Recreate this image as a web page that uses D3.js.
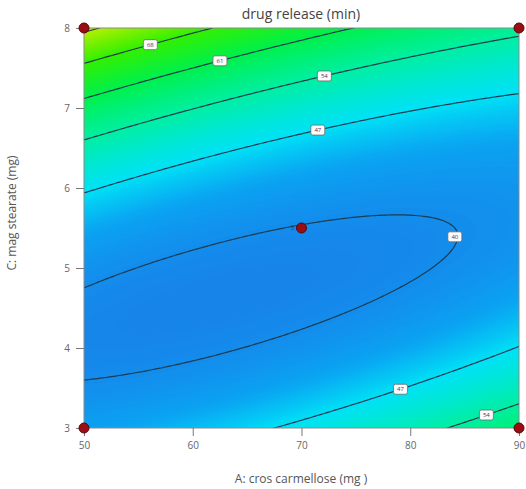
<!DOCTYPE html>
<html>
<head>
<meta charset="utf-8">
<script src="https://cdn.jsdelivr.net/npm/d3@7"></script>
<style>
  body { margin: 0; background: #fff; }
  text { font-family: "Open Sans", "DejaVu Sans", sans-serif; }
</style>
</head>
<body>
<div id="vis"></div>
<script>

// fitted model, coded units a = (A-70)/20, c = (C-5.5)/2.5
// terms: const, A, C, AC, A^2, C^2
var coefNames = ['Intercept', 'A', 'C', 'AC', 'A2', 'C2'];
var coef = [39.87, -1.43, 7.72, -8.98, 2.29, 15.75];

var xDomain = [50, 90];
var yDomain = [3, 8];
var xTicks = [50, 60, 70, 80, 90];
var yTicks = [3, 4, 5, 6, 7, 8];

var levels = [40, 47, 54, 61, 68, 75];

// contour labels: level, A position, which branch of the curve
var labelLevels = [68, 61, 54, 47, 40, 47, 54];
var labelA = [56.1, 62.5, 72.1, 71.5, 84.1, 79.1, 87.0];
var labelBranch = ['up', 'up', 'up', 'up', 'tip', 'down', 'down'];

// design points
var designA = [50, 90, 50, 90, 70];
var designC = [8, 8, 3, 3, 5.5];
var designN = ['', '', '', '', '3'];

var width = 526, height = 489;
var margin = {left: 84, right: 7, top: 28, bottom: 61};

function model(A, C) {
	var a = (A - 70) / 20, c = (C - 5.5) / 2.5;
	return coef[0] + coef[1]*a + coef[2]*c + coef[3]*a*c + coef[4]*a*a + coef[5]*c*c;
}

// solve the model for C at a given A and level
function solveC(A, L, branch) {
	var a = (A - 70) / 20;
	var qa = coef[5], qb = coef[2] + coef[3]*a, qc = coef[0] + coef[1]*a + coef[4]*a*a - L;
	var disc = qb*qb - 4*qa*qc;
	var c;
	if (branch === 'tip' || disc < 0) c = -qb / (2*qa);
	else if (branch === 'up') c = (-qb + Math.sqrt(disc)) / (2*qa);
	else c = (-qb - Math.sqrt(disc)) / (2*qa);
	return 5.5 + c * 2.5;
}

var x = d3.scaleLinear().domain(xDomain).range([margin.left, width - margin.right]);
var y = d3.scaleLinear().domain(yDomain).range([height - margin.bottom, margin.top]);

var svg = d3.select('#vis').append('svg')
	.attr('width', width)
	.attr('height', height);

// grid of model values
var nx = 161, ny = 161;
var values = new Array(nx * ny);
for (var j = 0; j < ny; j++) {
	for (var i = 0; i < nx; i++) {
		var A = xDomain[0] + (xDomain[1] - xDomain[0]) * i / (nx - 1);
		var C = yDomain[1] - (yDomain[1] - yDomain[0]) * j / (ny - 1);
		values[j * nx + i] = model(A, C);
	}
}

var gx = d3.scaleLinear().domain([0.5, nx - 0.5]).range(x.range());
var gy = d3.scaleLinear().domain([0.5, ny - 0.5]).range([y(yDomain[1]), y(yDomain[0])]);
var path = d3.geoPath(d3.geoTransform({
	point: function(px, py) { this.stream.point(gx(px), gy(py)); }
}));

var color = d3.scaleLinear()
	.domain([38.8, 43, 47, 54, 61, 68, 76])
	.range(['#1784ea', '#0aa4f2', '#00e2f6', '#00efa0', '#00f04c', '#34f000', '#c4f000'])
	.clamp(true);

svg.append('clipPath').attr('id', 'plotClip')
	.append('rect')
	.attr('x', x(xDomain[0])).attr('y', y(yDomain[1]))
	.attr('width', x(xDomain[1]) - x(xDomain[0]))
	.attr('height', y(yDomain[0]) - y(yDomain[1]));

var plot = svg.append('g').attr('clip-path', 'url(#plotClip)');

plot.append('rect')
	.attr('x', x(xDomain[0])).attr('y', y(yDomain[1]))
	.attr('width', x(xDomain[1]) - x(xDomain[0]))
	.attr('height', y(yDomain[0]) - y(yDomain[1]))
	.attr('fill', color(38.8));

// smooth fill from many thin bands
var fillThresholds = d3.range(38.8, 77, 0.2);
plot.selectAll('.band')
	.data(d3.contours().size([nx, ny]).thresholds(fillThresholds)(values))
	.enter().append('path')
	.attr('class', 'band')
	.attr('d', path)
	.attr('fill', function (d) { return color(d.value); });

// contour lines
plot.selectAll('.line')
	.data(d3.contours().size([nx, ny]).thresholds(levels)(values))
	.enter().append('path')
	.attr('class', 'line')
	.attr('d', path)
	.attr('fill', 'none')
	.attr('stroke', '#1d3b50')
	.attr('stroke-width', 1.2);

// frame
svg.append('rect')
	.attr('x', x(xDomain[0])).attr('y', y(yDomain[1]))
	.attr('width', x(xDomain[1]) - x(xDomain[0]))
	.attr('height', y(yDomain[0]) - y(yDomain[1]))
	.attr('fill', 'none')
	.attr('stroke', '#8a8a8a')
	.attr('stroke-width', 1);

// contour labels
var labels = svg.selectAll('.clabel')
	.data(labelLevels.map(function (L, k) {
		return {level: L, A: labelA[k], C: solveC(labelA[k], L, labelBranch[k])};
	}))
	.enter().append('g')
	.attr('class', 'clabel')
	.attr('transform', function (d) { return 'translate(' + x(d.A) + ',' + y(d.C) + ')'; });

labels.append('rect')
	.attr('x', -7).attr('y', -5)
	.attr('width', 14).attr('height', 10)
	.attr('rx', 2)
	.attr('fill', '#fbfbfb')
	.attr('stroke', '#6a6a6a')
	.attr('stroke-width', 0.8);

labels.append('text')
	.attr('text-anchor', 'middle')
	.attr('dy', '0.35em')
	.attr('font-size', 6)
	.attr('fill', '#553355')
	.text(function (d) { return d.level; });

// axes
var xAxis = d3.axisBottom(x).tickValues(xTicks).tickFormat(d3.format('d')).tickSize(8).tickPadding(6);
var yAxis = d3.axisLeft(y).tickValues(yTicks).tickFormat(d3.format('d')).tickSize(8).tickPadding(6);

var gX = svg.append('g')
	.attr('transform', 'translate(0,' + y(yDomain[0]) + ')')
	.call(xAxis);
var gY = svg.append('g')
	.attr('transform', 'translate(' + x(xDomain[0]) + ',0)')
	.call(yAxis);

[gX, gY].forEach(function (g) {
	g.select('.domain').remove();
	g.selectAll('line').attr('stroke', '#777');
	g.selectAll('text').attr('fill', '#666').attr('font-size', 10);
});

// design points
var pts = svg.selectAll('.pt')
	.data(designA.map(function (A, k) { return {A: A, C: designC[k], n: designN[k]}; }))
	.enter().append('g')
	.attr('class', 'pt');

pts.append('circle')
	.attr('cx', function (d) { return x(d.A); })
	.attr('cy', function (d) { return y(d.C); })
	.attr('r', 5)
	.attr('fill', '#9a0d12')
	.attr('stroke', '#5a0508')
	.attr('stroke-width', 1);

pts.append('text')
	.attr('x', function (d) { return x(d.A) - 9; })
	.attr('y', function (d) { return y(d.C); })
	.attr('dy', '0.35em')
	.attr('text-anchor', 'middle')
	.attr('font-size', 7)
	.attr('fill', '#444')
	.text(function (d) { return d.n; });

// titles
svg.append('text')
	.attr('x', 301).attr('y', 19)
	.attr('text-anchor', 'middle')
	.attr('font-size', 14)
	.attr('fill', '#444')
	.text('drug release (min)');

svg.append('text')
	.attr('x', 301).attr('y', 483)
	.attr('text-anchor', 'middle')
	.attr('font-size', 12)
	.attr('fill', '#555')
	.text('A: cros carmellose  (mg )');

svg.append('text')
	.attr('transform', 'translate(16,213) rotate(-90)')
	.attr('text-anchor', 'middle')
	.attr('font-size', 12)
	.attr('fill', '#555')
	.text('C: mag stearate  (mg)');

</script>
</body>
</html>
